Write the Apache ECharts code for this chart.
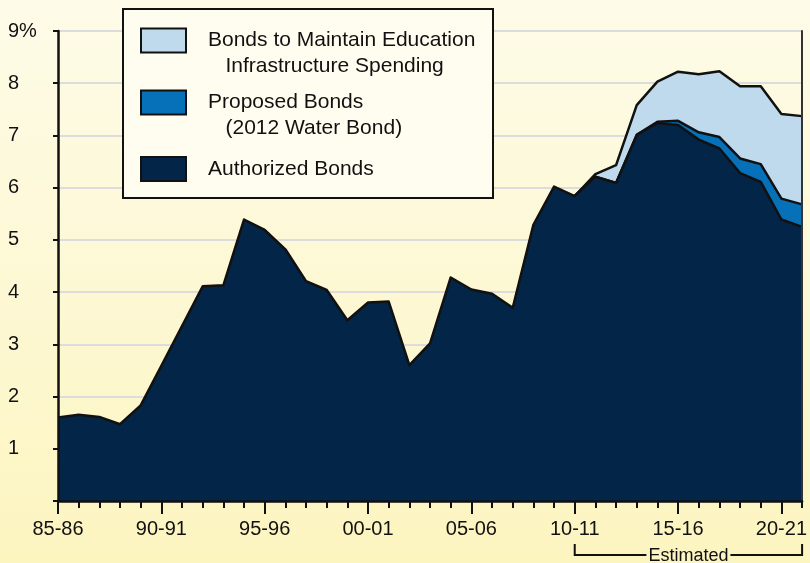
<!DOCTYPE html>
<html>
<head>
<meta charset="utf-8">
<script src="https://cdn.jsdelivr.net/npm/echarts@6/dist/echarts.min.js"></script>
<style>
  html, body { margin: 0; padding: 0; }
  #main { width: 810px; height: 563px; }
</style>
</head>
<body>
<div id="main"></div>
<script>
// fiscal years 85-86 .. 21-22
const categories = ['85-86','86-87','87-88','88-89','89-90','90-91','91-92','92-93','93-94','94-95',
  '95-96','96-97','97-98','98-99','99-00','00-01','01-02','02-03','03-04','04-05',
  '05-06','06-07','07-08','08-09','09-10','10-11','11-12','12-13','13-14','14-15',
  '15-16','16-17','17-18','18-19','19-20','20-21','21-22'];

const authorized = [1.60,1.65,1.61,1.47,1.83,2.59,3.35,4.11,4.13,5.39,
  5.19,4.82,4.21,4.04,3.46,3.80,3.82,2.60,3.02,4.28,
  4.05,3.97,3.70,5.29,6.02,5.84,6.21,6.09,7.01,7.24,
  7.20,6.92,6.75,6.28,6.11,5.39,5.25];

const proposed = ['-','-','-','-','-','-','-','-','-','-',
  '-','-','-','-','-','-','-','-','-','-',
  '-','-','-','-','-',0,0,0,0,0.02,
  0.08,0.14,0.22,0.28,0.34,0.40,0.43];

const education = ['-','-','-','-','-','-','-','-','-','-',
  '-','-','-','-','-','-','-','-','-','-',
  '-','-','-','-','-',0,0.05,0.34,0.57,0.77,
  0.94,1.11,1.26,1.38,1.49,1.62,1.69];

const yTickLabels = ['', '1', '2', '3', '4', '5', '6', '7', '8', '9%'];

const FONT = '"Liberation Sans", Arial, Helvetica, sans-serif';
const NAVY = '#022548', BLUE = '#0670b8', LIGHT = '#c0daed';

var chart = echarts.init(document.getElementById('main'));

const outline = { color: '#111', width: 2.5, join: 'round' };

const legendBase = {
  orient: 'vertical',
  left: 140,
  padding: 0,
  itemWidth: 45,
  itemHeight: 24,
  icon: 'rect',
  selectedMode: false,
  z: 20,
  itemStyle: { borderColor: '#111', borderWidth: 2 },
  textStyle: { fontFamily: FONT, fontSize: 21, color: '#111', lineHeight: 26, padding: [0, 0, 0, 17] }
};

var option = {
  backgroundColor: new echarts.graphic.LinearGradient(0, 0, 0, 1, [
    { offset: 0, color: '#fefbe8' },
    { offset: 1, color: '#fcf5c0' }
  ]),
  animation: false,
  grid: { left: 58, right: 3, top: 31, bottom: 62 },
  legend: [
    Object.assign({}, legendBase, {
      top: 1.5,
      data: ['Bonds to Maintain Education Infrastructure Spending'],
      formatter: () => '\nBonds to Maintain Education\n   Infrastructure Spending'
    }),
    Object.assign({}, legendBase, {
      top: 63.5,
      data: ['Proposed Bonds (2012 Water Bond)'],
      formatter: () => '\nProposed Bonds\n   (2012 Water Bond)'
    }),
    Object.assign({}, legendBase, {
      top: 156,
      data: ['Authorized Bonds']
    })
  ],
  xAxis: [
    {
      type: 'category',
      data: categories,
      boundaryGap: false,
      z: 10,
      axisLine: { lineStyle: { color: '#111', width: 2.5 } },
      axisTick: { interval: 0, length: 7, lineStyle: { color: '#111', width: 2 } },
      axisLabel: { show: false }
    },
    {
      type: 'category',
      data: categories,
      position: 'bottom',
      boundaryGap: false,
      z: 10,
      axisLine: { show: false },
      axisTick: { interval: 4, length: 13, lineStyle: { color: '#111', width: 2 } },
      axisLabel: { interval: 4, margin: 18, fontFamily: FONT, fontSize: 20, color: '#111' }
    },
    {
      // top frame line
      type: 'category',
      data: categories,
      position: 'top',
      boundaryGap: false,
      axisLine: { lineStyle: { color: '#111', width: 2 } },
      axisTick: { show: false },
      axisLabel: { show: false }
    }
  ],
  yAxis: [
    {
      // gridlines, under the areas
      type: 'value', min: 0, max: 9, interval: 1, position: 'left',
      axisLine: { show: false }, axisTick: { show: false }, axisLabel: { show: false },
      splitLine: { lineStyle: { color: '#dcdcdc', width: 2 } }
    },
    {
      type: 'value', min: 0, max: 9, interval: 1, position: 'left', z: 10,
      axisLine: { show: true, lineStyle: { color: '#111', width: 2.5 } },
      axisTick: { show: true, length: 5, lineStyle: { color: '#111', width: 2 } },
      splitLine: { show: false },
      axisLabel: {
        align: 'left', margin: 50, fontFamily: FONT, fontSize: 20, color: '#111',
        formatter: v => yTickLabels[v]
      }
    },
    {
      // right frame line
      type: 'value', min: 0, max: 9, interval: 1, position: 'right', z: 10,
      axisLine: { show: true, lineStyle: { color: '#333', width: 2 } },
      axisTick: { show: false }, axisLabel: { show: false }, splitLine: { show: false }
    }
  ],
  series: [
    {
      name: 'Authorized Bonds', type: 'line', stack: 'total', data: authorized,
      color: NAVY, showSymbol: false, z: 6,
      lineStyle: outline, areaStyle: { color: NAVY, opacity: 1 }
    },
    {
      name: 'Proposed Bonds (2012 Water Bond)', type: 'line', stack: 'total', data: proposed,
      color: BLUE, showSymbol: false, z: 5,
      lineStyle: outline, areaStyle: { color: BLUE, opacity: 1 }
    },
    {
      name: 'Bonds to Maintain Education Infrastructure Spending', type: 'line', stack: 'total', data: education,
      color: LIGHT, showSymbol: false, z: 4,
      lineStyle: outline, areaStyle: { color: LIGHT, opacity: 1 }
    }
  ],
  graphic: [
    {
      id: 'legendBox', type: 'rect', z: 15,
      shape: { x: 123, y: 9, width: 370, height: 189 },
      style: { fill: '#fffdf0', stroke: '#111', lineWidth: 2 }
    }
  ]
};

chart.setOption(option);

// "Estimated" bracket under the axis, from 10-11 to the last year
const xa = chart.convertToPixel({ xAxisIndex: 0 }, categories[25]);
const xb = chart.convertToPixel({ xAxisIndex: 0 }, categories[categories.length - 1]);
chart.setOption({
  graphic: [
    {
      id: 'estBracket', type: 'polyline', z: 10,
      shape: { points: [[xa, 544], [xa, 555], [xb, 555], [xb, 544]] },
      style: { stroke: '#111', lineWidth: 2, fill: null }
    },
    {
      id: 'estText', type: 'text', z: 11,
      x: (xa + xb) / 2, y: 556,
      style: {
        text: 'Estimated', font: '18px ' + FONT, fill: '#111',
        align: 'center', verticalAlign: 'middle',
        backgroundColor: '#fcf5c2', padding: [0, 2]
      }
    }
  ]
});

window.onresize = () => { chart.resize(); };
</script>
</body>
</html>
